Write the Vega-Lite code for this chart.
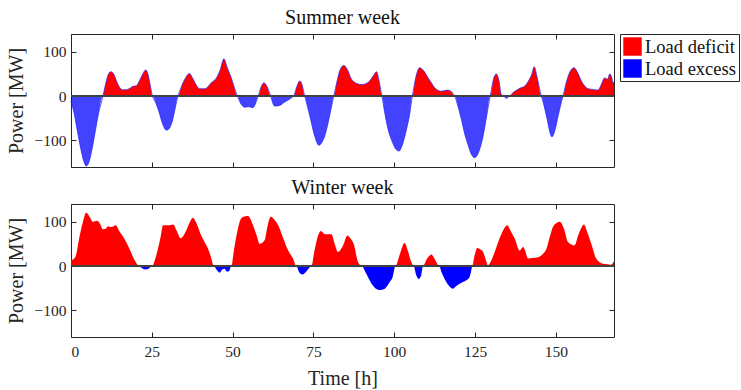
{
"$schema": "https://vega.github.io/schema/vega-lite/v6.json",
"padding": {"left": 5, "top": 7, "right": 0, "bottom": 0},
"spacing": 8,
"config": {
 "font": "Liberation Serif",
 "view": {"stroke": "#262626", "strokeWidth": 1},
 "axis": {"domain": false, "grid": false, "tickColor": "#262626", "tickSize": -5, "labelColor": "#262626", "labelFontSize": 15.5, "labelFont": "Liberation Serif", "titleFont": "Liberation Serif", "titleFontSize": 20, "titleFontWeight": "normal", "titleColor": "#262626", "labelPadding": 10},
 "title": {"font": "Liberation Serif", "fontSize": 20, "fontWeight": "normal", "color": "#111111", "offset": 6},
 "legend": {"labelFont": "Liberation Serif"}
},
"datasets": {
 "summer": [
  {"t":0,"p":-12,"s":"Load excess"},{"t":1,"p":-40,"s":"Load excess"},{"t":2,"p":-80,"s":"Load excess"},{"t":3,"p":-118,"s":"Load excess"},{"t":4,"p":-148,"s":"Load excess"},{"t":4.7,"p":-158,"s":"Load excess"},{"t":5.5,"p":-150,"s":"Load excess"},{"t":6.5,"p":-120,"s":"Load excess"},{"t":7.5,"p":-80,"s":"Load excess"},{"t":8.5,"p":-40,"s":"Load excess"},{"t":9.9,"p":0,"s":"Load excess"},
  {"t":9.9,"p":0,"s":"Load deficit"},{"t":10.8,"p":30,"s":"Load deficit"},{"t":11.5,"p":48,"s":"Load deficit"},{"t":12.3,"p":55,"s":"Load deficit"},{"t":13.2,"p":50,"s":"Load deficit"},{"t":14.2,"p":32,"s":"Load deficit"},{"t":15.2,"p":18,"s":"Load deficit"},{"t":16.1,"p":14,"s":"Load deficit"},{"t":17.5,"p":15,"s":"Load deficit"},{"t":18.5,"p":19,"s":"Load deficit"},{"t":19.2,"p":22,"s":"Load deficit"},{"t":20.2,"p":23,"s":"Load deficit"},{"t":21.2,"p":35,"s":"Load deficit"},{"t":22.2,"p":50,"s":"Load deficit"},{"t":23.1,"p":59,"s":"Load deficit"},{"t":23.8,"p":50,"s":"Load deficit"},{"t":24.5,"p":25,"s":"Load deficit"},{"t":25.2,"p":0,"s":"Load deficit"},
  {"t":25.2,"p":0,"s":"Load excess"},{"t":26.2,"p":-15,"s":"Load excess"},{"t":27.2,"p":-35,"s":"Load excess"},{"t":28.3,"p":-62,"s":"Load excess"},{"t":29.5,"p":-77,"s":"Load excess"},{"t":30.5,"p":-72,"s":"Load excess"},{"t":31.5,"p":-52,"s":"Load excess"},{"t":32.3,"p":-25,"s":"Load excess"},{"t":33.1,"p":0,"s":"Load excess"},
  {"t":33.1,"p":0,"s":"Load deficit"},{"t":34.2,"p":22,"s":"Load deficit"},{"t":35.2,"p":38,"s":"Load deficit"},{"t":36.7,"p":51,"s":"Load deficit"},{"t":37.5,"p":42,"s":"Load deficit"},{"t":38.1,"p":34,"s":"Load deficit"},{"t":39,"p":22,"s":"Load deficit"},{"t":39.8,"p":16.5,"s":"Load deficit"},{"t":41.4,"p":16.5,"s":"Load deficit"},{"t":42.5,"p":22,"s":"Load deficit"},{"t":43.4,"p":30,"s":"Load deficit"},{"t":45,"p":41,"s":"Load deficit"},{"t":46.2,"p":60,"s":"Load deficit"},{"t":47.3,"p":84,"s":"Load deficit"},{"t":48.3,"p":65,"s":"Load deficit"},{"t":49.6,"p":41,"s":"Load deficit"},{"t":50.5,"p":20,"s":"Load deficit"},{"t":51.5,"p":0,"s":"Load deficit"},
  {"t":51.5,"p":0,"s":"Load excess"},{"t":52.2,"p":-12,"s":"Load excess"},{"t":52.7,"p":-19,"s":"Load excess"},{"t":53.7,"p":-25,"s":"Load excess"},{"t":55,"p":-24,"s":"Load excess"},{"t":56.3,"p":-26,"s":"Load excess"},{"t":57.2,"p":-15,"s":"Load excess"},{"t":57.9,"p":0,"s":"Load excess"},
  {"t":57.9,"p":0,"s":"Load deficit"},{"t":58.8,"p":20,"s":"Load deficit"},{"t":59.7,"p":30,"s":"Load deficit"},{"t":60.6,"p":22,"s":"Load deficit"},{"t":61.8,"p":0,"s":"Load deficit"},
  {"t":61.8,"p":0,"s":"Load excess"},{"t":62.4,"p":-15,"s":"Load excess"},{"t":63,"p":-22.6,"s":"Load excess"},{"t":64.6,"p":-21,"s":"Load excess"},{"t":66.1,"p":-13.5,"s":"Load excess"},{"t":67.2,"p":-9,"s":"Load excess"},{"t":68.2,"p":-4,"s":"Load excess"},{"t":68.9,"p":0,"s":"Load excess"},
  {"t":68.9,"p":0,"s":"Load deficit"},{"t":69.8,"p":20,"s":"Load deficit"},{"t":70.8,"p":34,"s":"Load deficit"},{"t":71.5,"p":25,"s":"Load deficit"},{"t":72.3,"p":0,"s":"Load deficit"},
  {"t":72.3,"p":0,"s":"Load excess"},{"t":73.1,"p":-22,"s":"Load excess"},{"t":73.9,"p":-45,"s":"Load excess"},{"t":75.4,"p":-90,"s":"Load excess"},{"t":76.7,"p":-111,"s":"Load excess"},{"t":77.6,"p":-105,"s":"Load excess"},{"t":78.5,"p":-90,"s":"Load excess"},{"t":80,"p":-45,"s":"Load excess"},{"t":80.7,"p":-20,"s":"Load excess"},{"t":81.3,"p":0,"s":"Load excess"},
  {"t":81.3,"p":0,"s":"Load deficit"},{"t":82.2,"p":30,"s":"Load deficit"},{"t":83.2,"p":58,"s":"Load deficit"},{"t":84.4,"p":69,"s":"Load deficit"},{"t":85.5,"p":60,"s":"Load deficit"},{"t":86.7,"p":39,"s":"Load deficit"},{"t":88,"p":30,"s":"Load deficit"},{"t":89.8,"p":26,"s":"Load deficit"},{"t":91.2,"p":28,"s":"Load deficit"},{"t":92.4,"p":34,"s":"Load deficit"},{"t":93.5,"p":45,"s":"Load deficit"},{"t":94.5,"p":55,"s":"Load deficit"},{"t":95.3,"p":35,"s":"Load deficit"},{"t":96.2,"p":0,"s":"Load deficit"},
  {"t":96.2,"p":0,"s":"Load excess"},{"t":97,"p":-35,"s":"Load excess"},{"t":98.1,"p":-75,"s":"Load excess"},{"t":99.5,"p":-105,"s":"Load excess"},{"t":100.5,"p":-120,"s":"Load excess"},{"t":101.5,"p":-124,"s":"Load excess"},{"t":102.6,"p":-108,"s":"Load excess"},{"t":103.8,"p":-75,"s":"Load excess"},{"t":104.8,"p":-40,"s":"Load excess"},{"t":105.6,"p":0,"s":"Load excess"},
  {"t":105.6,"p":0,"s":"Load deficit"},{"t":106.6,"p":40,"s":"Load deficit"},{"t":107.9,"p":64,"s":"Load deficit"},{"t":109,"p":58,"s":"Load deficit"},{"t":110.5,"p":41,"s":"Load deficit"},{"t":111.5,"p":30,"s":"Load deficit"},{"t":112.5,"p":19,"s":"Load deficit"},{"t":114.6,"p":11,"s":"Load deficit"},{"t":116.6,"p":13.5,"s":"Load deficit"},{"t":117.7,"p":10,"s":"Load deficit"},{"t":118.7,"p":0,"s":"Load deficit"},
  {"t":118.7,"p":0,"s":"Load excess"},{"t":119.8,"p":-25,"s":"Load excess"},{"t":120.8,"p":-53,"s":"Load excess"},{"t":121.8,"p":-85,"s":"Load excess"},{"t":122.8,"p":-109,"s":"Load excess"},{"t":123.8,"p":-130,"s":"Load excess"},{"t":124.9,"p":-139,"s":"Load excess"},{"t":126.2,"p":-125,"s":"Load excess"},{"t":127.5,"p":-90,"s":"Load excess"},{"t":128.6,"p":-45,"s":"Load excess"},{"t":129.7,"p":0,"s":"Load excess"},
  {"t":129.7,"p":0,"s":"Load deficit"},{"t":130.7,"p":38,"s":"Load deficit"},{"t":131.6,"p":50,"s":"Load deficit"},{"t":132.4,"p":35,"s":"Load deficit"},{"t":133.1,"p":4,"s":"Load deficit"},{"t":133.8,"p":0,"s":"Load deficit"},
  {"t":133.8,"p":0,"s":"Load excess"},{"t":134.7,"p":-5,"s":"Load excess"},{"t":135.7,"p":0,"s":"Load excess"},
  {"t":135.7,"p":0,"s":"Load deficit"},{"t":136.8,"p":8,"s":"Load deficit"},{"t":137.8,"p":13,"s":"Load deficit"},{"t":139,"p":18,"s":"Load deficit"},{"t":140.4,"p":22.6,"s":"Load deficit"},{"t":141.6,"p":35,"s":"Load deficit"},{"t":142.6,"p":50,"s":"Load deficit"},{"t":143.3,"p":66,"s":"Load deficit"},{"t":144.3,"p":40,"s":"Load deficit"},{"t":145.5,"p":0,"s":"Load deficit"},
  {"t":145.5,"p":0,"s":"Load excess"},{"t":146.3,"p":-20,"s":"Load excess"},{"t":147.1,"p":-45,"s":"Load excess"},{"t":148.8,"p":-92,"s":"Load excess"},{"t":149.8,"p":-75,"s":"Load excess"},{"t":150.7,"p":-45,"s":"Load excess"},{"t":151.5,"p":-20,"s":"Load excess"},{"t":152.2,"p":0,"s":"Load excess"},
  {"t":152.2,"p":0,"s":"Load deficit"},{"t":153.2,"p":30,"s":"Load deficit"},{"t":154.4,"p":55,"s":"Load deficit"},{"t":155.6,"p":64,"s":"Load deficit"},{"t":156.8,"p":52,"s":"Load deficit"},{"t":157.9,"p":34,"s":"Load deficit"},{"t":159,"p":22,"s":"Load deficit"},{"t":160,"p":16.5,"s":"Load deficit"},{"t":161.5,"p":15,"s":"Load deficit"},{"t":163.1,"p":13.5,"s":"Load deficit"},{"t":164,"p":25,"s":"Load deficit"},{"t":165.1,"p":41,"s":"Load deficit"},{"t":166,"p":38,"s":"Load deficit"},{"t":166.7,"p":50,"s":"Load deficit"},{"t":167.3,"p":42,"s":"Load deficit"},{"t":167.7,"p":30,"s":"Load deficit"},{"t":168,"p":32,"s":"Load deficit"}
 ],
 "winter": [
  {"t":0,"p":13,"s":"Load deficit"},{"t":1.3,"p":20,"s":"Load deficit"},{"t":2.7,"p":69,"s":"Load deficit"},{"t":3.7,"p":100,"s":"Load deficit"},{"t":4.7,"p":121,"s":"Load deficit"},{"t":5.7,"p":112,"s":"Load deficit"},{"t":6.8,"p":100,"s":"Load deficit"},{"t":8.1,"p":102,"s":"Load deficit"},{"t":9,"p":95,"s":"Load deficit"},{"t":9.9,"p":83,"s":"Load deficit"},{"t":10.7,"p":84,"s":"Load deficit"},{"t":11.4,"p":90,"s":"Load deficit"},{"t":12.6,"p":88,"s":"Load deficit"},{"t":13.8,"p":92,"s":"Load deficit"},{"t":15.1,"p":77,"s":"Load deficit"},{"t":16,"p":68,"s":"Load deficit"},{"t":17.1,"p":54,"s":"Load deficit"},{"t":18.4,"p":34,"s":"Load deficit"},{"t":19.7,"p":13,"s":"Load deficit"},{"t":21.2,"p":0,"s":"Load deficit"},
  {"t":21.2,"p":0,"s":"Load excess"},{"t":22,"p":-5,"s":"Load excess"},{"t":23.1,"p":-8,"s":"Load excess"},{"t":24,"p":-6,"s":"Load excess"},{"t":25.1,"p":0,"s":"Load excess"},
  {"t":25.1,"p":0,"s":"Load deficit"},{"t":26,"p":15,"s":"Load deficit"},{"t":26.9,"p":39,"s":"Load deficit"},{"t":27.7,"p":65,"s":"Load deficit"},{"t":28.5,"p":92,"s":"Load deficit"},{"t":30,"p":92,"s":"Load deficit"},{"t":31.6,"p":94,"s":"Load deficit"},{"t":32.8,"p":78,"s":"Load deficit"},{"t":33.9,"p":63,"s":"Load deficit"},{"t":35.7,"p":81,"s":"Load deficit"},{"t":36.7,"p":98,"s":"Load deficit"},{"t":37.7,"p":109,"s":"Load deficit"},{"t":38.6,"p":100,"s":"Load deficit"},{"t":40.3,"p":69,"s":"Load deficit"},{"t":41.3,"p":55,"s":"Load deficit"},{"t":42.4,"p":39,"s":"Load deficit"},{"t":43.3,"p":20,"s":"Load deficit"},{"t":44.2,"p":0,"s":"Load deficit"},
  {"t":44.2,"p":0,"s":"Load excess"},{"t":45,"p":-8,"s":"Load excess"},{"t":46,"p":-15,"s":"Load excess"},{"t":46.8,"p":-8,"s":"Load excess"},{"t":47.5,"p":-6,"s":"Load excess"},{"t":48.2,"p":-12,"s":"Load excess"},{"t":48.8,"p":-12,"s":"Load excess"},{"t":49.6,"p":0,"s":"Load excess"},
  {"t":49.6,"p":0,"s":"Load deficit"},{"t":50.4,"p":35,"s":"Load deficit"},{"t":51.2,"p":69,"s":"Load deficit"},{"t":52.7,"p":108,"s":"Load deficit"},{"t":53.8,"p":112,"s":"Load deficit"},{"t":54.8,"p":113,"s":"Load deficit"},{"t":55.5,"p":106,"s":"Load deficit"},{"t":56.3,"p":92,"s":"Load deficit"},{"t":57.4,"p":70,"s":"Load deficit"},{"t":58.4,"p":50,"s":"Load deficit"},{"t":59.9,"p":58,"s":"Load deficit"},{"t":60.8,"p":90,"s":"Load deficit"},{"t":61.8,"p":111,"s":"Load deficit"},{"t":63,"p":104,"s":"Load deficit"},{"t":64.1,"p":92,"s":"Load deficit"},{"t":65.6,"p":64,"s":"Load deficit"},{"t":67.2,"p":35,"s":"Load deficit"},{"t":68.7,"p":17,"s":"Load deficit"},{"t":69.7,"p":0,"s":"Load deficit"},
  {"t":69.7,"p":0,"s":"Load excess"},{"t":70.6,"p":-14,"s":"Load excess"},{"t":71.6,"p":-19,"s":"Load excess"},{"t":72.6,"p":-14,"s":"Load excess"},{"t":73.5,"p":-6,"s":"Load excess"},{"t":74.4,"p":0,"s":"Load excess"},
  {"t":74.4,"p":0,"s":"Load deficit"},{"t":75.2,"p":30,"s":"Load deficit"},{"t":75.9,"p":54,"s":"Load deficit"},{"t":77.3,"p":79,"s":"Load deficit"},{"t":78.5,"p":72,"s":"Load deficit"},{"t":80.6,"p":72,"s":"Load deficit"},{"t":81.6,"p":50,"s":"Load deficit"},{"t":82.6,"p":32,"s":"Load deficit"},{"t":84.2,"p":47,"s":"Load deficit"},{"t":85.5,"p":69,"s":"Load deficit"},{"t":86.5,"p":62,"s":"Load deficit"},{"t":87.6,"p":47,"s":"Load deficit"},{"t":88.8,"p":9,"s":"Load deficit"},{"t":90,"p":0,"s":"Load deficit"},
  {"t":90,"p":0,"s":"Load excess"},{"t":91,"p":-12,"s":"Load excess"},{"t":91.9,"p":-25,"s":"Load excess"},{"t":93.4,"p":-44,"s":"Load excess"},{"t":94.5,"p":-52,"s":"Load excess"},{"t":95.5,"p":-54,"s":"Load excess"},{"t":97.1,"p":-51,"s":"Load excess"},{"t":98.6,"p":-36,"s":"Load excess"},{"t":99.5,"p":-25,"s":"Load excess"},{"t":100.4,"p":0,"s":"Load excess"},
  {"t":100.4,"p":0,"s":"Load deficit"},{"t":101.8,"p":28,"s":"Load deficit"},{"t":103.2,"p":52,"s":"Load deficit"},{"t":104.2,"p":35,"s":"Load deficit"},{"t":105.1,"p":13,"s":"Load deficit"},{"t":106,"p":0,"s":"Load deficit"},
  {"t":106,"p":0,"s":"Load excess"},{"t":106.8,"p":-20,"s":"Load excess"},{"t":107.6,"p":-29,"s":"Load excess"},{"t":108.3,"p":-22,"s":"Load excess"},{"t":108.9,"p":0,"s":"Load excess"},
  {"t":108.9,"p":0,"s":"Load deficit"},{"t":110,"p":15,"s":"Load deficit"},{"t":111,"p":24,"s":"Load deficit"},{"t":111.5,"p":26,"s":"Load deficit"},{"t":112.8,"p":12,"s":"Load deficit"},{"t":113.9,"p":0,"s":"Load deficit"},
  {"t":113.9,"p":0,"s":"Load excess"},{"t":114.7,"p":-15,"s":"Load excess"},{"t":115.6,"p":-29,"s":"Load excess"},{"t":116.8,"p":-43,"s":"Load excess"},{"t":118.2,"p":-51,"s":"Load excess"},{"t":119.2,"p":-45,"s":"Load excess"},{"t":120.3,"p":-40,"s":"Load excess"},{"t":121.3,"p":-36,"s":"Load excess"},{"t":122.3,"p":-32,"s":"Load excess"},{"t":123.3,"p":-25,"s":"Load excess"},{"t":124.1,"p":0,"s":"Load excess"},
  {"t":124.1,"p":0,"s":"Load deficit"},{"t":124.9,"p":25,"s":"Load deficit"},{"t":125.7,"p":41,"s":"Load deficit"},{"t":126.6,"p":38,"s":"Load deficit"},{"t":127.5,"p":32,"s":"Load deficit"},{"t":128.3,"p":15,"s":"Load deficit"},{"t":129,"p":1.5,"s":"Load deficit"},{"t":130,"p":12,"s":"Load deficit"},{"t":131.1,"p":32,"s":"Load deficit"},{"t":132.2,"p":55,"s":"Load deficit"},{"t":133.2,"p":73,"s":"Load deficit"},{"t":134,"p":85,"s":"Load deficit"},{"t":135,"p":92,"s":"Load deficit"},{"t":136.1,"p":78,"s":"Load deficit"},{"t":137.3,"p":62,"s":"Load deficit"},{"t":138.8,"p":35,"s":"Load deficit"},{"t":139.9,"p":43,"s":"Load deficit"},{"t":140.5,"p":35,"s":"Load deficit"},{"t":141.4,"p":17,"s":"Load deficit"},{"t":142.8,"p":18,"s":"Load deficit"},{"t":144.5,"p":20,"s":"Load deficit"},{"t":146,"p":27,"s":"Load deficit"},{"t":147.1,"p":39,"s":"Load deficit"},{"t":148.1,"p":65,"s":"Load deficit"},{"t":149.1,"p":88,"s":"Load deficit"},{"t":150.2,"p":97,"s":"Load deficit"},{"t":151.2,"p":100,"s":"Load deficit"},{"t":152.5,"p":85,"s":"Load deficit"},{"t":153.8,"p":54,"s":"Load deficit"},{"t":155.8,"p":47,"s":"Load deficit"},{"t":156.9,"p":69,"s":"Load deficit"},{"t":157.8,"p":85,"s":"Load deficit"},{"t":158.7,"p":94,"s":"Load deficit"},{"t":159.8,"p":75,"s":"Load deficit"},{"t":161,"p":50,"s":"Load deficit"},{"t":162.5,"p":17,"s":"Load deficit"},{"t":164.6,"p":5,"s":"Load deficit"},{"t":166,"p":4,"s":"Load deficit"},{"t":167,"p":3,"s":"Load deficit"},{"t":168,"p":11,"s":"Load deficit"}
 ]
},
"vconcat": [
 {
  "width": 543, "height": 133,
  "title": {"text": "Summer week"},
  "data": {"name": "summer"},
  "layer": [
   {"mark": {"type": "area", "interpolate": "monotone"},
    "encoding": {
     "x": {"field": "t", "type": "quantitative", "scale": {"domain": [0, 168], "nice": false}, "axis": {"values": [0,25,50,75,100,125,150], "labels": false, "title": null}},
     "y": {"field": "p", "type": "quantitative", "stack": null, "scale": {"domain": [-160, 140], "nice": false}, "axis": {"values": [-100,0,100], "title": "Power [MW]", "titlePadding": 8}},
     "y2": {"datum": 0},
     "color": {"field": "s", "type": "nominal", "scale": {"domain": ["Load deficit", "Load excess"], "range": ["#ff0000", "#0000ff"]},
       "legend": {"title": null, "orient": "none", "legendX": 549, "legendY": 0, "symbolType": "square", "symbolSize": 340, "symbolStrokeWidth": 0, "symbolOpacity": 1, "labelFontSize": 18.5, "labelColor": "#111111", "labelOffset": 3, "strokeColor": "#262626", "fillColor": "#ffffff", "padding": 3, "rowPadding": 3}},
     "opacity": {"condition": {"test": "datum.s == 'Load excess'", "value": 0.74}, "value": 1}
    }},
   {"transform": [{"filter": "datum.p != 0 || datum.s == 'Load deficit'"}],
    "mark": {"type": "line", "interpolate": "monotone", "color": "#2020ff", "strokeWidth": 1, "opacity": 0.7},
    "encoding": {
     "x": {"field": "t", "type": "quantitative", "axis": null},
     "y": {"field": "p", "type": "quantitative", "axis": null}
    }},
   {"mark": {"type": "rule", "color": "#444444", "strokeWidth": 0.8},
    "encoding": {
     "y": {"datum": 0, "type": "quantitative", "axis": {"orient": "right", "values": [-100,0,100], "labels": false, "title": null}},
     "x": {"datum": 0, "type": "quantitative", "axis": {"orient": "top", "values": [0,25,50,75,100,125,150], "labels": false, "title": null}},
     "x2": {"datum": 168}
    }}
  ],
  "resolve": {"axis": {"x": "independent", "y": "independent"}}
 },
 {
  "width": 543, "height": 133,
  "title": {"text": "Winter week"},
  "data": {"name": "winter"},
  "layer": [
   {"mark": {"type": "area", "interpolate": "monotone"},
    "encoding": {
     "x": {"field": "t", "type": "quantitative", "scale": {"domain": [0, 168], "nice": false}, "axis": {"values": [0,25,50,75,100,125,150], "title": "Time [h]", "labelPadding": 12, "titlePadding": 9}},
     "y": {"field": "p", "type": "quantitative", "stack": null, "scale": {"domain": [-160, 140], "nice": false}, "axis": {"values": [-100,0,100], "title": "Power [MW]", "titlePadding": 8}},
     "y2": {"datum": 0},
     "color": {"field": "s", "type": "nominal"}
    }},
   {"mark": {"type": "rule", "color": "#444444", "strokeWidth": 0.8},
    "encoding": {
     "y": {"datum": 0, "type": "quantitative", "axis": {"orient": "right", "values": [-100,0,100], "labels": false, "title": null}},
     "x": {"datum": 0, "type": "quantitative", "axis": {"orient": "top", "values": [0,25,50,75,100,125,150], "labels": false, "title": null}},
     "x2": {"datum": 168}
    }}
  ],
  "resolve": {"axis": {"x": "independent", "y": "independent"}}
 }
]
}
